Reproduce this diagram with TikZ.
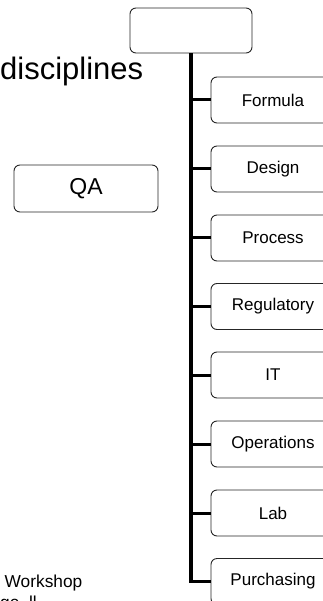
\documentclass[tikz,border=0pt]{standalone}
\usepackage{fontspec}
\setmainfont{Liberation Sans}
\usepackage{tikz}

\tikzset{
  orgbox/.style={draw=black!85, line width=0.9pt, rounded corners=6pt, fill=white,
                 minimum width=124pt, minimum height=46pt, inner sep=0pt,
                 font=\fontsize{17}{20}\selectfont},
  trunk/.style={line width=3.2pt},
  branch/.style={line width=3pt}
}

\begin{document}
\begin{tikzpicture}[x=1pt,y=-1pt]
        \useasboundingbox (0,0) rectangle (323,601);
        \clip (0,0) rectangle (323,601);
        % side texts
        \node[anchor=base west, inner sep=0pt, font=\fontsize{31}{36}\selectfont] (title) at (0,80) {disciplines};
        \node[orgbox, minimum width=144pt, minimum height=47pt, font=\fontsize{23}{26}\selectfont] (qa) at (86,188.5) {QA};
        \node[anchor=base west, inner sep=0pt, font=\fontsize{17.3}{21}\selectfont] (note) at (4.5,587) {Workshop};
        \node[anchor=base west, inner sep=0pt, font=\fontsize{17.3}{21}\selectfont] (note2) at (0,608) {ge, ll};
        % tree
        \node[orgbox, minimum width=122pt, minimum height=45pt] (top) at (191,30.5) {};
        \node[orgbox] (formula) at (273,100) {Formula};
        \node[orgbox] (design) at (273,169) {Design};
        \node[orgbox] (process) at (273,238) {Process};
        \node[orgbox] (regulatory) at (273,306.5) {Regulatory};
        \node[orgbox] (it) at (273,375) {IT};
        \node[orgbox] (operations) at (273,444) {Operations};
        \node[orgbox] (lab) at (273,513) {Lab};
        \node[orgbox] (purchasing) at (273,581.5) {Purchasing};
        \draw[trunk] (top.south) -- (top.south |- purchasing.west);
        \draw[branch] (top.south |- formula.west) -- (formula.west);
        \draw[branch] (top.south |- design.west) -- (design.west);
        \draw[branch] (top.south |- process.west) -- (process.west);
        \draw[branch] (top.south |- regulatory.west) -- (regulatory.west);
        \draw[branch] (top.south |- it.west) -- (it.west);
        \draw[branch] (top.south |- operations.west) -- (operations.west);
        \draw[branch] (top.south |- lab.west) -- (lab.west);
        \draw[branch] ([xshift=-1.6pt]top.south |- purchasing.west) -- (purchasing.west);
      \end{tikzpicture}
\end{document}
